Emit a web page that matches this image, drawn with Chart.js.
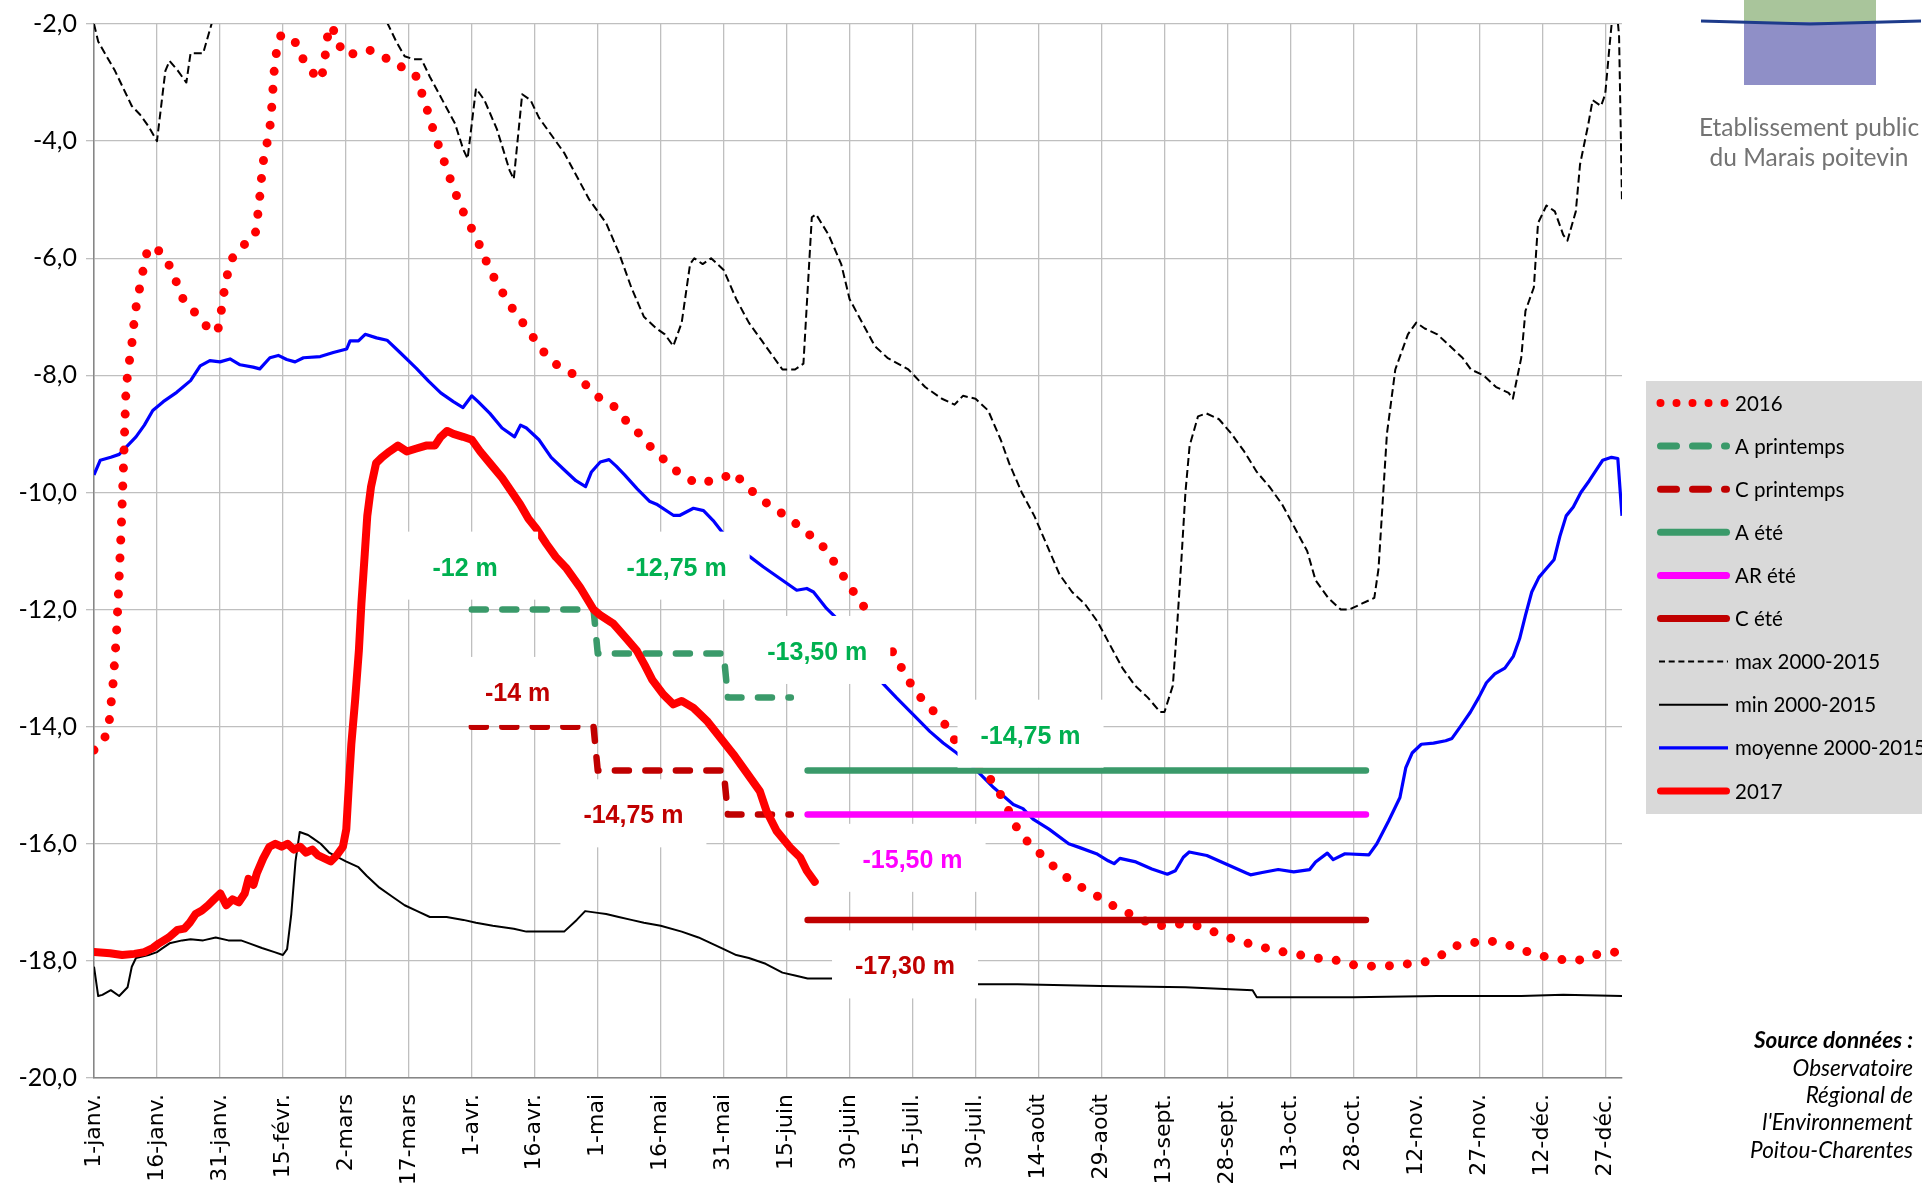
<!DOCTYPE html>
<html lang="fr">
<head>
<meta charset="utf-8">
<title>Niveaux 2016 / 2017</title>
<script src="https://cdn.jsdelivr.net/npm/chart.js"></script>
<style>
  html, body { margin: 0; padding: 0; background: #fff; overflow: hidden; }
</style>
</head>
<body>
<canvas id="myChart" width="1922" height="1184"></canvas>
<script>
// x = jour de l'année (0 = 1-janv.), y = niveau en m
const tickDays = [0, 15, 30, 45, 60, 75, 90, 105, 120, 135, 150, 165, 180, 195, 210, 225, 240, 255, 270, 285, 300, 315, 330, 345, 360];
const tickLabels = ['1-janv.', '16-janv.', '31-janv.', '15-févr.', '2-mars', '17-mars', '1-avr.', '16-avr.', '1-mai', '16-mai', '31-mai', '15-juin', '30-juin', '15-juil.', '30-juil.', '14-août', '29-août', '13-sept.', '28-sept.', '13-oct.', '28-oct.', '12-nov.', '27-nov.', '12-déc.', '27-déc.'];
const yTicks = [-20, -18, -16, -14, -12, -10, -8, -6, -4, -2];

const serie2016 = [[0,-14.4],[2,-14.3],[3.5,-14.0],[4.5,-13.3],[5.3,-12.5],[5.9,-11.6],[6.5,-10.6],[7,-9.6],[7.6,-8.29],[8,-7.98],[8.6,-7.67],[9.2,-7.36],[9.6,-7.04],[10.2,-6.75],[11.1,-6.43],[11.9,-6.13],[12.9,-5.81],[15.7,-5.88],[18,-6.13],[19.7,-6.42],[21.3,-6.71],[24.2,-6.94],[26.9,-7.17],[29.4,-7.27],[30.2,-6.96],[30.8,-6.65],[31.6,-6.34],[32.5,-6.04],[35.3,-5.79],[38.3,-5.65],[38.9,-5.33],[39.4,-5.02],[39.8,-4.71],[40.2,-4.39],[41.1,-4.08],[41.9,-3.77],[42.3,-3.46],[42.6,-3.14],[42.9,-2.82],[43.4,-2.51],[44.5,-2.2],[47.5,-2.24],[49.3,-2.54],[51.6,-2.8],[54.1,-2.96],[54.9,-2.65],[55.4,-2.34],[56,-2.03],[58,-2.18],[59,-2.5],[62.2,-2.51],[65.3,-2.44],[68.3,-2.51],[71.7,-2.71],[74.5,-2.75],[76.8,-2.9],[79.1,-3.4],[81.2,-3.9],[83.2,-4.3],[85.6,-4.8],[87.9,-5.2],[90,-5.5],[92,-5.8],[94.3,-6.2],[96.6,-6.5],[99.6,-6.85],[101.6,-7.05],[103.7,-7.25],[106,-7.5],[108.9,-7.75],[111.8,-7.9],[114.8,-8.0],[117.7,-8.2],[120.6,-8.4],[123.5,-8.5],[126.4,-8.75],[129.4,-8.96],[132.3,-9.2],[135.2,-9.4],[138.1,-9.6],[141,-9.75],[143.9,-9.85],[147,-9.8],[150,-9.75],[152.2,-9.65],[155.6,-9.9],[158.6,-10.1],[162.2,-10.28],[165.9,-10.45],[169.2,-10.66],[172.8,-10.84],[175.5,-11.1],[177.9,-11.36],[180.3,-11.63],[182.7,-11.88],[185.1,-12.12],[188.5,-12.5],[192.1,-12.96],[194.2,-13.23],[196.9,-13.5],[199.8,-13.72],[202.8,-13.97],[205.2,-14.25],[210,-14.6],[214.3,-14.96],[216.6,-15.24],[218.5,-15.53],[220.4,-15.81],[223.4,-16.04],[226.5,-16.24],[229.8,-16.47],[233.3,-16.66],[237.1,-16.82],[240.9,-16.97],[244.5,-17.14],[248.6,-17.24],[252.4,-17.41],[256.6,-17.38],[260.9,-17.36],[265.1,-17.45],[269.2,-17.58],[273.3,-17.67],[277.5,-17.75],[281.9,-17.83],[286.2,-17.88],[290.5,-17.95],[295,-17.97],[299,-18.06],[303.5,-18.09],[307.8,-18.09],[313,-18.05],[317,-18.02],[321,-17.9],[324,-17.75],[327.6,-17.7],[331.7,-17.65],[335.8,-17.7],[339.6,-17.8],[344,-17.9],[348.3,-17.97],[353.3,-18.0],[357,-17.9],[362.3,-17.85]];

const aPrintemps = [[90,-12],[119,-12],[120,-12.75],[150,-12.75],[151,-13.5],[166,-13.5]];
const cPrintemps = [[90,-14],[119,-14],[120,-14.75],[150,-14.75],[151,-15.5],[166,-15.5]];
const aEte = [[170,-14.75],[303,-14.75]];
const arEte = [[170,-15.5],[303,-15.5]];
const cEte = [[170,-17.3],[303,-17.3]];

const max2000 = [[0,-2.0],[1,-2.3],[5,-2.8],[9,-3.4],[11,-3.55],[13,-3.75],[15,-4.0],[17,-2.8],[18,-2.63],[20,-2.8],[22,-3.0],[23,-2.5],[26,-2.5],[28,-2.0],[30,-1.6],[67,-1.7],[70,-2.0],[72,-2.3],[74,-2.55],[76,-2.6],[78,-2.6],[80,-2.9],[83,-3.3],[86,-3.7],[88,-4.15],[89,-4.3],[91,-3.1],[93,-3.3],[96,-3.8],[99,-4.5],[100,-4.65],[102,-3.2],[104,-3.3],[106,-3.6],[109,-3.9],[112,-4.2],[115,-4.6],[118,-5.0],[120,-5.2],[122,-5.4],[125,-5.9],[128,-6.5],[131,-7.0],[134,-7.2],[136,-7.3],[138,-7.5],[140,-7.1],[142,-6.1],[143,-6.0],[145,-6.1],[147,-6.0],[150,-6.2],[153,-6.7],[156,-7.1],[159,-7.4],[162,-7.7],[164,-7.9],[167,-7.9],[169,-7.8],[171,-5.3],[172,-5.25],[175,-5.6],[178,-6.1],[180,-6.7],[183,-7.1],[186,-7.5],[189,-7.7],[194,-7.9],[198,-8.2],[202,-8.4],[205,-8.5],[207,-8.35],[210,-8.4],[213,-8.6],[216,-9.1],[218,-9.5],[221,-10.0],[224,-10.4],[227,-10.9],[230,-11.4],[233,-11.7],[236,-11.9],[239,-12.2],[242,-12.6],[245,-13.0],[248,-13.3],[251,-13.5],[254,-13.75],[255,-13.75],[257,-13.3],[258,-12.3],[259,-11.2],[260,-10.0],[261,-9.2],[263,-8.7],[265,-8.65],[268,-8.75],[271,-9.0],[274,-9.3],[277,-9.65],[280,-9.9],[283,-10.2],[286,-10.6],[289,-11.0],[291,-11.5],[294,-11.8],[297,-12.0],[299,-12.0],[302,-11.9],[305,-11.8],[306,-11.3],[308,-9.0],[310,-7.9],[313,-7.3],[315,-7.1],[317,-7.2],[320,-7.3],[323,-7.5],[326,-7.7],[328,-7.9],[331,-8.0],[334,-8.2],[337,-8.3],[338,-8.4],[340,-7.7],[341,-6.9],[343,-6.5],[344,-5.4],[346,-5.1],[348,-5.2],[350,-5.6],[351,-5.7],[353,-5.2],[354,-4.4],[356,-3.7],[357,-3.3],[359,-3.4],[360,-3.2],[361,-2.4],[361.8,-1.8],[362.8,-1.8],[363.3,-2.2],[364,-5.05]];

const min2000 = [[0,-18.1],[1,-18.6],[2,-18.58],[4,-18.5],[6,-18.6],[8,-18.45],[9,-18.1],[10,-17.95],[13,-17.9],[15,-17.85],[16,-17.8],[18,-17.7],[21,-17.65],[23,-17.63],[26,-17.65],[29,-17.6],[32,-17.65],[35,-17.65],[37,-17.7],[40,-17.78],[43,-17.85],[45,-17.9],[46,-17.8],[47,-17.2],[48,-16.3],[49,-15.8],[51,-15.85],[52,-15.9],[54,-16.0],[56,-16.15],[60,-16.3],[63,-16.4],[65,-16.55],[68,-16.75],[71,-16.9],[74,-17.05],[77,-17.15],[80,-17.25],[84,-17.25],[88,-17.3],[91,-17.35],[95,-17.4],[100,-17.45],[103,-17.5],[108,-17.5],[112,-17.5],[115,-17.3],[117,-17.15],[120,-17.18],[122,-17.2],[125,-17.25],[128,-17.3],[131,-17.35],[135,-17.4],[140,-17.5],[144,-17.6],[150,-17.8],[153,-17.9],[156,-17.95],[160,-18.05],[164,-18.2],[167,-18.25],[170,-18.3],[178,-18.3],[185,-18.35],[195,-18.38],[205,-18.4],[220,-18.4],[240,-18.43],[260,-18.45],[276,-18.5],[277,-18.62],[300,-18.62],[320,-18.6],[340,-18.6],[350,-18.58],[364,-18.6]];

const moy2000 = [[0,-9.7],[1.5,-9.45],[4,-9.4],[6,-9.35],[8,-9.2],[10,-9.05],[12,-8.85],[14,-8.6],[16.5,-8.45],[19.7,-8.29],[23,-8.09],[25.3,-7.84],[27.6,-7.75],[30,-7.77],[32.4,-7.72],[34.8,-7.82],[37.9,-7.86],[39.5,-7.89],[41.9,-7.7],[43.9,-7.66],[45.9,-7.73],[47.9,-7.77],[49.9,-7.7],[53.9,-7.68],[57,-7.61],[60.2,-7.55],[61,-7.41],[63,-7.41],[64.6,-7.3],[67.3,-7.36],[69.8,-7.4],[72.9,-7.61],[76.8,-7.88],[79.7,-8.1],[82.6,-8.3],[85.6,-8.45],[87.9,-8.55],[90,-8.35],[91.5,-8.45],[94.3,-8.65],[97.2,-8.9],[100.2,-9.05],[101.6,-8.85],[103,-8.9],[106,-9.1],[108.9,-9.4],[111.8,-9.6],[114.8,-9.8],[117.1,-9.9],[118.5,-9.65],[120.6,-9.48],[122.7,-9.44],[124.4,-9.55],[126.4,-9.7],[129.4,-9.94],[132.3,-10.15],[134,-10.2],[138,-10.39],[139.6,-10.39],[142.8,-10.27],[145.2,-10.31],[147.5,-10.48],[149.9,-10.7],[153,-10.9],[156.3,-11.1],[159.4,-11.27],[163.4,-11.47],[167.4,-11.67],[169.8,-11.64],[171.4,-11.7],[174.5,-11.98],[176.5,-12.12],[182,-12.7],[187.9,-13.26],[191.2,-13.51],[195.1,-13.79],[199.1,-14.08],[202.3,-14.28],[205.5,-14.45],[209.6,-14.7],[214.3,-15.04],[219,-15.33],[221.3,-15.4],[223.7,-15.58],[227.5,-15.75],[232.2,-16.0],[235,-16.07],[238.8,-16.17],[241.6,-16.29],[243,-16.34],[244.4,-16.25],[248.2,-16.31],[252,-16.43],[255.7,-16.52],[257.6,-16.46],[259.5,-16.23],[260.9,-16.14],[265.1,-16.2],[269.8,-16.35],[274.5,-16.5],[275.5,-16.53],[278.3,-16.49],[282.1,-16.44],[285.8,-16.48],[289.6,-16.44],[291,-16.31],[293.8,-16.16],[295.2,-16.27],[298,-16.17],[303.7,-16.19],[305.6,-16.0],[308.4,-15.61],[311.1,-15.21],[312.5,-14.7],[314,-14.45],[316.2,-14.3],[319.1,-14.28],[322,-14.24],[323.5,-14.2],[325.5,-14.0],[327.9,-13.75],[329.9,-13.5],[331.7,-13.25],[333.7,-13.1],[336.1,-13.0],[338.1,-12.8],[339.6,-12.5],[341,-12.1],[342.5,-11.7],[344.2,-11.45],[346,-11.3],[347.8,-11.15],[349.2,-10.75],[350.7,-10.4],[352.4,-10.25],[354.2,-10.0],[356.2,-9.8],[358,-9.6],[359.4,-9.45],[361.5,-9.4],[363,-9.42],[364,-10.4]];

const serie2017 = [[0,-17.85],[3.8,-17.87],[6.7,-17.9],[9.6,-17.88],[12,-17.85],[14,-17.78],[15.5,-17.7],[17.8,-17.6],[19.9,-17.47],[21.5,-17.45],[22.8,-17.35],[24.2,-17.2],[25.7,-17.14],[27.2,-17.05],[28.6,-16.95],[30.1,-16.85],[31.5,-17.05],[33,-16.95],[34.5,-17.0],[35.9,-16.85],[36.8,-16.6],[38,-16.7],[38.8,-16.5],[40.3,-16.25],[41.8,-16.05],[43.2,-16.0],[44.7,-16.05],[46.1,-16.0],[47.6,-16.1],[49.1,-16.05],[50.5,-16.15],[52,-16.1],[53.4,-16.2],[54.9,-16.25],[56.4,-16.3],[57.8,-16.2],[59.3,-16.05],[60.1,-15.75],[60.7,-15.0],[61.3,-14.3],[62.2,-13.55],[63.1,-12.7],[63.7,-11.9],[64.5,-11.05],[65.1,-10.4],[66,-9.9],[67.2,-9.5],[68.6,-9.4],[70.4,-9.3],[72.4,-9.2],[74.5,-9.3],[76.8,-9.25],[79.1,-9.2],[81.2,-9.2],[82.6,-9.05],[84.1,-8.95],[85.6,-9.0],[87.9,-9.05],[90,-9.1],[92,-9.3],[94.3,-9.5],[97.2,-9.75],[99.6,-10.0],[101.5,-10.2],[103.5,-10.45],[105.4,-10.62],[107.8,-10.88],[110,-11.1],[112.6,-11.3],[115.8,-11.62],[119,-12.0],[120.5,-12.09],[123.7,-12.24],[126.9,-12.5],[129.3,-12.7],[131.2,-12.95],[133,-13.2],[135.6,-13.45],[138,-13.62],[140,-13.56],[142.8,-13.68],[146,-13.9],[149.2,-14.19],[152.3,-14.47],[155.5,-14.79],[158.6,-15.1],[160.2,-15.44],[162.6,-15.78],[165.8,-16.06],[168.2,-16.23],[169.8,-16.46],[171.7,-16.65]];

// étiquettes des seuils (centre en jour / niveau)
const levelLabels = [
    { text: '-12 m', day: 88.4, value: -11.25, color: '#00b050' },
    { text: '-12,75 m', day: 138.8, value: -11.25, color: '#00b050' },
    { text: '-13,50 m', day: 172.3, value: -12.69, color: '#00b050' },
    { text: '-14 m', day: 100.9, value: -13.39, color: '#c00000' },
    { text: '-14,75 m', day: 128.5, value: -15.48, color: '#c00000' },
    { text: '-14,75 m', day: 223.1, value: -14.12, color: '#00b050' },
    { text: '-15,50 m', day: 195.0, value: -16.24, color: '#ff00ff' },
    { text: '-17,30 m', day: 193.2, value: -18.06, color: '#c00000' }
];

const toXY = pts => pts.map(([x, y]) => ({ x, y }));

const GREEN = '#3a9a6a';
const DARKRED = '#c00000';

const datasets = [
    { label: '2016', data: toXY(serie2016), borderColor: '#ff0000', borderWidth: 9, borderDash: [0, 18], borderCapStyle: 'round', order: 2, legendDash: [0, 16], legendWidth: 8 },
    { label: 'A printemps', data: toXY(aPrintemps), borderColor: GREEN, borderWidth: 6.5, borderDash: [14, 16.5], borderCapStyle: 'round', order: 1, legendDash: [16, 16], legendWidth: 7 },
    { label: 'C printemps', data: toXY(cPrintemps), borderColor: DARKRED, borderWidth: 6.5, borderDash: [14, 16.5], borderCapStyle: 'round', order: 1, legendDash: [16, 16], legendWidth: 7 },
    { label: 'A été', data: toXY(aEte), borderColor: GREEN, borderWidth: 6.5, borderCapStyle: 'round', order: 1, legendWidth: 7 },
    { label: 'AR été', data: toXY(arEte), borderColor: '#ff00ff', borderWidth: 6.5, borderCapStyle: 'round', order: 1, legendWidth: 7 },
    { label: 'C été', data: toXY(cEte), borderColor: DARKRED, borderWidth: 6.5, borderCapStyle: 'round', order: 1, legendWidth: 7 },
    { label: 'max 2000-2015', data: toXY(max2000), borderColor: '#000000', borderWidth: 2, borderDash: [8, 4], order: 5, legendDash: [6, 3.7] },
    { label: 'min 2000-2015', data: toXY(min2000), borderColor: '#000000', borderWidth: 2, order: 4 },
    { label: 'moyenne 2000-2015', data: toXY(moy2000), borderColor: '#0000ff', borderWidth: 3.2, order: 3 },
    { label: '2017', data: toXY(serie2017), borderColor: '#ff0000', borderWidth: 8, borderCapStyle: 'round', order: 0, legendWidth: 7 }
];

const overlayPlugin = {
    id: 'overlay',
    afterDatasetsDraw(chart) {
        const { ctx, scales: { x, y } } = chart;
        ctx.save();
        ctx.font = 'bold 25px "Liberation Sans"';
        ctx.textAlign = 'center';
        ctx.textBaseline = 'middle';
        levelLabels.forEach(l => {
            const cx = x.getPixelForValue(l.day);
            const cy = y.getPixelForValue(l.value);
            ctx.fillStyle = '#ffffff';
            ctx.fillRect(cx - 73, cy - 34, 146, 68);
            ctx.fillStyle = l.color;
            ctx.fillText(l.text, cx, cy + 3);
        });
        ctx.restore();
    },
    afterDraw(chart) {
        const ctx = chart.ctx;
        ctx.save();

        // légende
        ctx.fillStyle = '#d9d9d9';
        ctx.fillRect(1646, 381, 276, 433);
        chart.data.datasets.forEach((ds, i) => {
            const yy = 403 + i * 43.1;
            const round = ds.borderCapStyle === 'round';
            ctx.save();
            ctx.strokeStyle = ds.borderColor;
            ctx.lineWidth = ds.legendWidth || ds.borderWidth;
            ctx.lineCap = round ? 'round' : 'butt';
            ctx.setLineDash(ds.legendDash || ds.borderDash || []);
            ctx.beginPath();
            if (round) {
                ctx.moveTo(1660.5, yy);
                ctx.lineTo(1726.5, yy);
            } else {
                ctx.moveTo(1659, yy);
                ctx.lineTo(1728, yy);
            }
            ctx.stroke();
            ctx.restore();
            ctx.fillStyle = '#000000';
            ctx.font = '20.5px Lato';
            ctx.textAlign = 'left';
            ctx.textBaseline = 'middle';
            ctx.fillText(ds.label, 1735, yy + 1);
        });

        // logo
        ctx.fillStyle = '#a9c59b';
        ctx.fillRect(1744, 0, 132, 22);
        ctx.fillStyle = '#8f8fc7';
        ctx.fillRect(1744, 22, 132, 63);
        ctx.strokeStyle = '#1d3b8b';
        ctx.lineWidth = 3;
        ctx.beginPath();
        ctx.moveTo(1701, 21);
        ctx.lineTo(1810, 24);
        ctx.lineTo(1921, 21);
        ctx.stroke();
        ctx.fillStyle = '#737373';
        ctx.font = '24.5px Lato';
        ctx.textAlign = 'center';
        ctx.textBaseline = 'alphabetic';
        ctx.fillText('Etablissement public', 1809, 136);
        ctx.fillText('du Marais poitevin', 1809, 166);

        // source
        ctx.fillStyle = '#000000';
        ctx.textAlign = 'right';
        ctx.font = 'italic bold 22.5px Lato';
        ctx.fillText('Source données :', 1913, 1048);
        ctx.font = 'italic 22.5px Lato';
        ['Observatoire', 'Régional de', "l'Environnement", 'Poitou-Charentes'].forEach((t, i) => {
            ctx.fillText(t, 1913, 1076 + i * 27.2);
        });
        ctx.restore();
    }
};

const ctx = document.getElementById('myChart').getContext('2d');
new Chart(ctx, {
    type: 'line',
    data: { datasets: datasets },
    plugins: [overlayPlugin],
    options: {
        responsive: false,
        animation: false,
        events: [],
        layout: { padding: { top: 20, right: 300, left: 0, bottom: 0 } },
        elements: {
            point: { radius: 0 },
            line: { tension: 0, borderJoinStyle: 'round', fill: false }
        },
        plugins: {
            legend: { display: false },
            tooltip: { enabled: false }
        },
        scales: {
            x: {
                type: 'linear',
                min: 0,
                max: 364,
                afterBuildTicks: s => { s.ticks = tickDays.map(v => ({ value: v })); },
                afterFit: s => { s.height = 106; },
                grid: { color: '#bfbfbf', lineWidth: 1.3, drawTicks: false },
                border: { color: '#868686', width: 1.5 },
                ticks: {
                    autoSkip: false,
                    minRotation: 90,
                    maxRotation: 90,
                    padding: 16,
                    color: '#000000',
                    font: { family: 'DejaVu Sans', size: 22 },
                    callback: v => tickLabels[tickDays.indexOf(v)]
                }
            },
            y: {
                min: -20,
                max: -2,
                afterBuildTicks: s => { s.ticks = yTicks.map(v => ({ value: v })); },
                afterFit: s => { s.width = 94; },
                grid: { color: '#bfbfbf', lineWidth: 1.3, tickLength: 8 },
                border: { color: '#868686', width: 1.5 },
                ticks: {
                    padding: 9,
                    color: '#000000',
                    font: { family: 'Lato', size: 25 },
                    callback: v => v.toFixed(1).replace('.', ',')
                }
            }
        }
    }
});
</script>
</body>
</html>
